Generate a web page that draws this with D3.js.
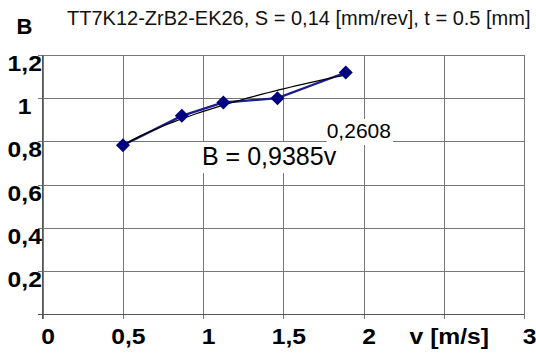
<!DOCTYPE html>
<html>
<head>
<meta charset="utf-8">
<script src="https://cdn.jsdelivr.net/npm/d3@7"></script>
<style>
  body { margin: 0; background: #fff; }
  text { font-family: "Liberation Sans", Arial, sans-serif; }
</style>
</head>
<body>
<div id="chart"></div>
<script>
// values
var speed = [0.5, 0.867, 1.126, 1.463, 1.889];
var wear = [0.782, 0.918, 0.98, 1.0, 1.119];

var xTicks = [0, 0.5, 1, 1.5, 2, 2.5, 3];
var xTickLabels = ["0", "0,5", "1", "1,5", "2", "v [m/s]", "3"];
var yTicks = [0, 0.2, 0.4, 0.6, 0.8, 1, 1.2];
var yTickLabels = ["", "0,2", "0,4", "0,6", "0,8", "1", "1,2"];

// power trendline shown on the chart: B = a * v^b
var trendA = 0.9385, trendB = 0.2608;
var trendText = "B = 0,9385v", trendExpText = "0,2608";

var title = "TT7K12-ZrB2-EK26, S = 0,14 [mm/rev], t = 0.5 [mm]";
var yName = "B";

// set the dimensions and margins of the graph
var margin = {top: 55, right: 12, bottom: 42, left: 42.7},
    width = 536 - margin.left - margin.right,
    height = 356 - margin.top - margin.bottom;

var root = d3.select("#chart")
  .append("svg")
    .attr("width", 536)
    .attr("height", 356);

var svg = root.append("g")
    .attr("transform", "translate(" + margin.left + "," + margin.top + ")");

var x = d3.scaleLinear().domain([0, 3]).range([0, width]);
var y = d3.scaleLinear().domain([0, 1.2]).range([height, 0]);

// widen the bold tick labels a bit, the original font is broader
function stretch(sel, k) {
  sel.each(function() {
    var w = this.getComputedTextLength();
    d3.select(this).attr("textLength", w * k).attr("lengthAdjust", "spacingAndGlyphs");
  });
}

// grid + y axis
var yAxis = svg.append("g")
  .call(d3.axisLeft(y).tickValues(yTicks).tickSizeInner(-width).tickSizeOuter(0)
    .tickFormat(function(d, i) { return yTickLabels[i]; }));
yAxis.select(".domain").remove();
yAxis.selectAll(".tick line")
  .attr("x1", -5)
  .attr("stroke", "#777")
  .attr("shape-rendering", "crispEdges");
yAxis.selectAll(".tick text")
  .attr("x", -18)
  .attr("dy", 15.5)
  .attr("text-anchor", "middle")
  .style("font-size", "22px")
  .style("font-weight", "bold")
  .attr("fill", "#000")
  .call(stretch, 1.12);

// grid + x axis
var xAxis = svg.append("g")
  .attr("transform", "translate(0," + height + ")")
  .call(d3.axisBottom(x).tickValues(xTicks).tickSizeInner(-height).tickSizeOuter(0)
    .tickFormat(function(d, i) { return xTickLabels[i]; }));
xAxis.select(".domain").remove();
xAxis.selectAll(".tick line")
  .attr("y1", 5)
  .attr("stroke", "#777")
  .attr("shape-rendering", "crispEdges");
xAxis.selectAll(".tick text")
  .attr("y", 29.5)
  .attr("dy", 0)
  .attr("dx", 5)
  .attr("text-anchor", "middle")
  .style("font-size", "22px")
  .style("font-weight", "bold")
  .attr("fill", "#000")
  .call(stretch, 1.12);

// axis lines
svg.append("line")
  .attr("x1", 0).attr("x2", 0)
  .attr("y1", 0).attr("y2", height + 5)
  .attr("stroke", "#555")
  .attr("shape-rendering", "crispEdges");
svg.append("line")
  .attr("x1", -5).attr("x2", width)
  .attr("y1", height).attr("y2", height)
  .attr("stroke", "#555")
  .attr("shape-rendering", "crispEdges");

// data line
svg.append("path")
  .datum(speed)
  .attr("d", d3.line()
    .x(function(d) { return x(d); })
    .y(function(d, i) { return y(wear[i]); }))
  .attr("fill", "none")
  .attr("stroke", "#1c1c8c")
  .attr("stroke-width", 2.3);

// trendline over the data range
var vMin = d3.min(speed), vMax = d3.max(speed);
var trendV = d3.range(0, 41).map(function(i) { return vMin + (vMax - vMin) * i / 40; });
svg.append("path")
  .datum(trendV)
  .attr("d", d3.line()
    .x(function(d) { return x(d); })
    .y(function(d) { return y(trendA * Math.pow(d, trendB)); }))
  .attr("fill", "none")
  .attr("stroke", "#000")
  .attr("stroke-width", 1.2);

// diamond markers
svg.selectAll(".pt")
  .data(speed)
  .enter()
  .append("path")
    .attr("class", "pt")
    .attr("transform", function(d, i) { return "translate(" + x(d) + "," + y(wear[i]) + ")"; })
    .attr("d", "M0,-7L7,0L0,7L-7,0Z")
    .attr("fill", "#000080");

// equation label with white boxes behind
function boxedText(px, py, txt, size) {
  var g = root.append("g");
  var rect = g.append("rect").attr("fill", "#fff");
  var t = g.append("text")
    .attr("x", px).attr("y", py)
    .style("font-size", size + "px")
    .attr("fill", "#000")
    .text(txt);
  var bb = t.node().getBBox();
  rect.attr("x", bb.x).attr("y", bb.y).attr("width", bb.width + 2).attr("height", bb.height + 3);
}
boxedText(326.7, 138, trendExpText, 21);
boxedText(202, 165, trendText, 25);

// title and y name
root.append("text")
  .attr("x", 67).attr("y", 25)
  .style("font-size", "20px")
  .attr("fill", "#111")
  .text(title);
root.append("text")
  .attr("x", 24.5).attr("y", 34)
  .attr("text-anchor", "middle")
  .style("font-size", "22px")
  .style("font-weight", "bold")
  .text(yName);
</script>
</body>
</html>
